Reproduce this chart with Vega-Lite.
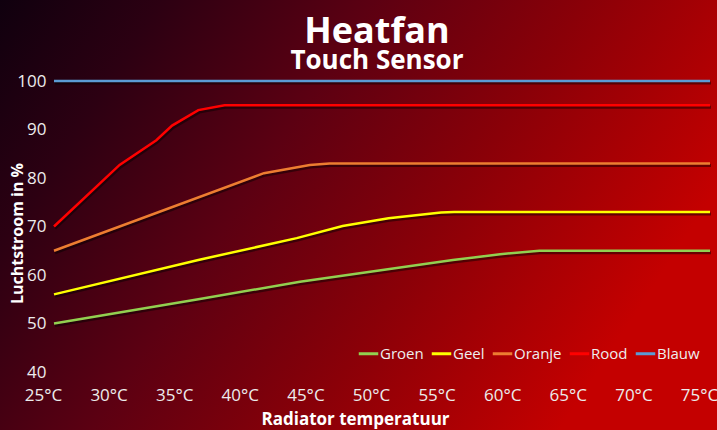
{
  "$schema": "https://vega.github.io/schema/vega-lite/v6.json",
  "width": 656,
  "height": 291,
  "autosize": {"type": "none"},
  "padding": {"left": 54, "top": 81, "right": 7, "bottom": 58},
  "background": "#5a0010",
  "config": {"view": {"stroke": null}, "font": "Open Sans"},
  "title": {
    "text": "Heatfan",
    "subtitle": "Touch Sensor",
    "font": "Open Sans",
    "subtitleFont": "Open Sans",
    "fontSize": 36,
    "fontWeight": "bold",
    "subtitleFontSize": 26,
    "subtitleFontWeight": "bold",
    "color": "white",
    "subtitleColor": "white",
    "anchor": "middle",
    "dx": -5,
    "offset": -81,
    "subtitlePadding": -3,
    "zindex": 1
  },
  "data": {
    "values": [
      {"serie": "Groen", "t": 25, "v": 50},
      {"serie": "Groen", "t": 36, "v": 55},
      {"serie": "Groen", "t": 43.75, "v": 58.6},
      {"serie": "Groen", "t": 55.4, "v": 63.1},
      {"serie": "Groen", "t": 57, "v": 63.6},
      {"serie": "Groen", "t": 59, "v": 64.3},
      {"serie": "Groen", "t": 62, "v": 65},
      {"serie": "Groen", "t": 75, "v": 65},
      {"serie": "Geel", "t": 25, "v": 56},
      {"serie": "Geel", "t": 36, "v": 63.1},
      {"serie": "Geel", "t": 43.5, "v": 67.6},
      {"serie": "Geel", "t": 47, "v": 70.1},
      {"serie": "Geel", "t": 50.5, "v": 71.7},
      {"serie": "Geel", "t": 54.5, "v": 72.9},
      {"serie": "Geel", "t": 55.5, "v": 73},
      {"serie": "Geel", "t": 75, "v": 73},
      {"serie": "Oranje", "t": 25, "v": 65},
      {"serie": "Oranje", "t": 41, "v": 81},
      {"serie": "Oranje", "t": 44.5, "v": 82.7},
      {"serie": "Oranje", "t": 46, "v": 83},
      {"serie": "Oranje", "t": 75, "v": 83},
      {"serie": "Rood", "t": 25, "v": 70},
      {"serie": "Rood", "t": 30, "v": 82.7},
      {"serie": "Rood", "t": 32.8, "v": 87.8},
      {"serie": "Rood", "t": 34, "v": 90.8},
      {"serie": "Rood", "t": 36, "v": 94},
      {"serie": "Rood", "t": 38, "v": 95},
      {"serie": "Rood", "t": 75, "v": 95},
      {"serie": "Blauw", "t": 25, "v": 100},
      {"serie": "Blauw", "t": 75, "v": 100}
    ]
  },
  "layer": [
    {
      "data": {"values": [{}]},
      "mark": {
        "type": "rect",
        "fill": {
          "gradient": "linear",
          "x1": 0, "y1": 0, "x2": 1.0, "y2": 0.41,
          "stops": [
            {"offset": 0, "color": "#0e000e"},
            {"offset": 0.2, "color": "#2c0012"},
            {"offset": 0.45, "color": "#5c0012"},
            {"offset": 0.7, "color": "#8a0008"},
            {"offset": 1, "color": "#c40000"}
          ]
        }
      },
      "encoding": {
        "x": {"datum": 20.5, "type": "quantitative"},
        "x2": {"datum": 76},
        "y": {"datum": 24, "type": "quantitative"},
        "y2": {"datum": 118}
      }
    },
    {
      "mark": {"type": "line", "color": "black", "opacity": 0.45, "strokeWidth": 3, "xOffset": 1, "yOffset": 2},
      "encoding": {
        "x": {"field": "t", "type": "quantitative"},
        "y": {"field": "v", "type": "quantitative"},
        "detail": {"field": "serie"}
      }
    },
    {
      "mark": {"type": "line", "strokeWidth": 2.5},
      "encoding": {
        "x": {
          "field": "t",
          "type": "quantitative",
          "scale": {"domain": [25, 75], "nice": false, "zero": false},
          "axis": {
            "title": "Radiator temperatuur",
            "values": [25, 30, 35, 40, 45, 50, 55, 60, 65, 70, 75],
            "labelExpr": "datum.value + '°C'",
            "grid": false,
            "domain": false,
            "ticks": false,
            "labelFont": "Open Sans",
            "labelFontSize": 17,
            "labelColor": "#ececec",
            "labelPadding": 15,
            "labelOffset": -11,
            "labelFlush": false,
            "labelOverlap": false,
            "labelBound": false,
            "titleFont": "Open Sans",
            "titleFontSize": 17,
            "titleFontWeight": "bold",
            "titleColor": "white",
            "titlePadding": 8,
            "titleX": 301,
            "titleAlign": "center",
            "zindex": 1
          }
        },
        "y": {
          "field": "v",
          "type": "quantitative",
          "scale": {"domain": [40, 100], "nice": false, "zero": false},
          "axis": {
            "title": "Luchtstroom in %",
            "values": [40, 50, 60, 70, 80, 90, 100],
            "grid": false,
            "domain": false,
            "ticks": false,
            "labelFont": "Open Sans",
            "labelFontSize": 17,
            "labelColor": "#ececec",
            "labelPadding": 8,
            "labelOverlap": false,
            "titleFont": "Open Sans",
            "titleFontSize": 16,
            "titleFontWeight": "bold",
            "titleColor": "white",
            "titlePadding": -9,
            "titleY": 152,
            "zindex": 1
          }
        },
        "color": {
          "field": "serie",
          "type": "nominal",
          "scale": {
            "domain": ["Groen", "Geel", "Oranje", "Rood", "Blauw"],
            "range": ["#92d050", "#ffff00", "#ed7d31", "#ff0000", "#5b9bd5"]
          },
          "legend": {
            "title": null,
            "orient": "bottom-right",
            "direction": "horizontal",
            "offset": 10,
            "symbolType": "stroke",
            "symbolStrokeWidth": 3,
            "symbolSize": 380,
            "labelFont": "Open Sans",
            "labelFontSize": 15,
            "labelColor": "#eeeeee",
            "labelOffset": 0,
            "columnPadding": 1,
            "padding": 0,
            "zindex": 1
          }
        }
      }
    }
  ]
}
